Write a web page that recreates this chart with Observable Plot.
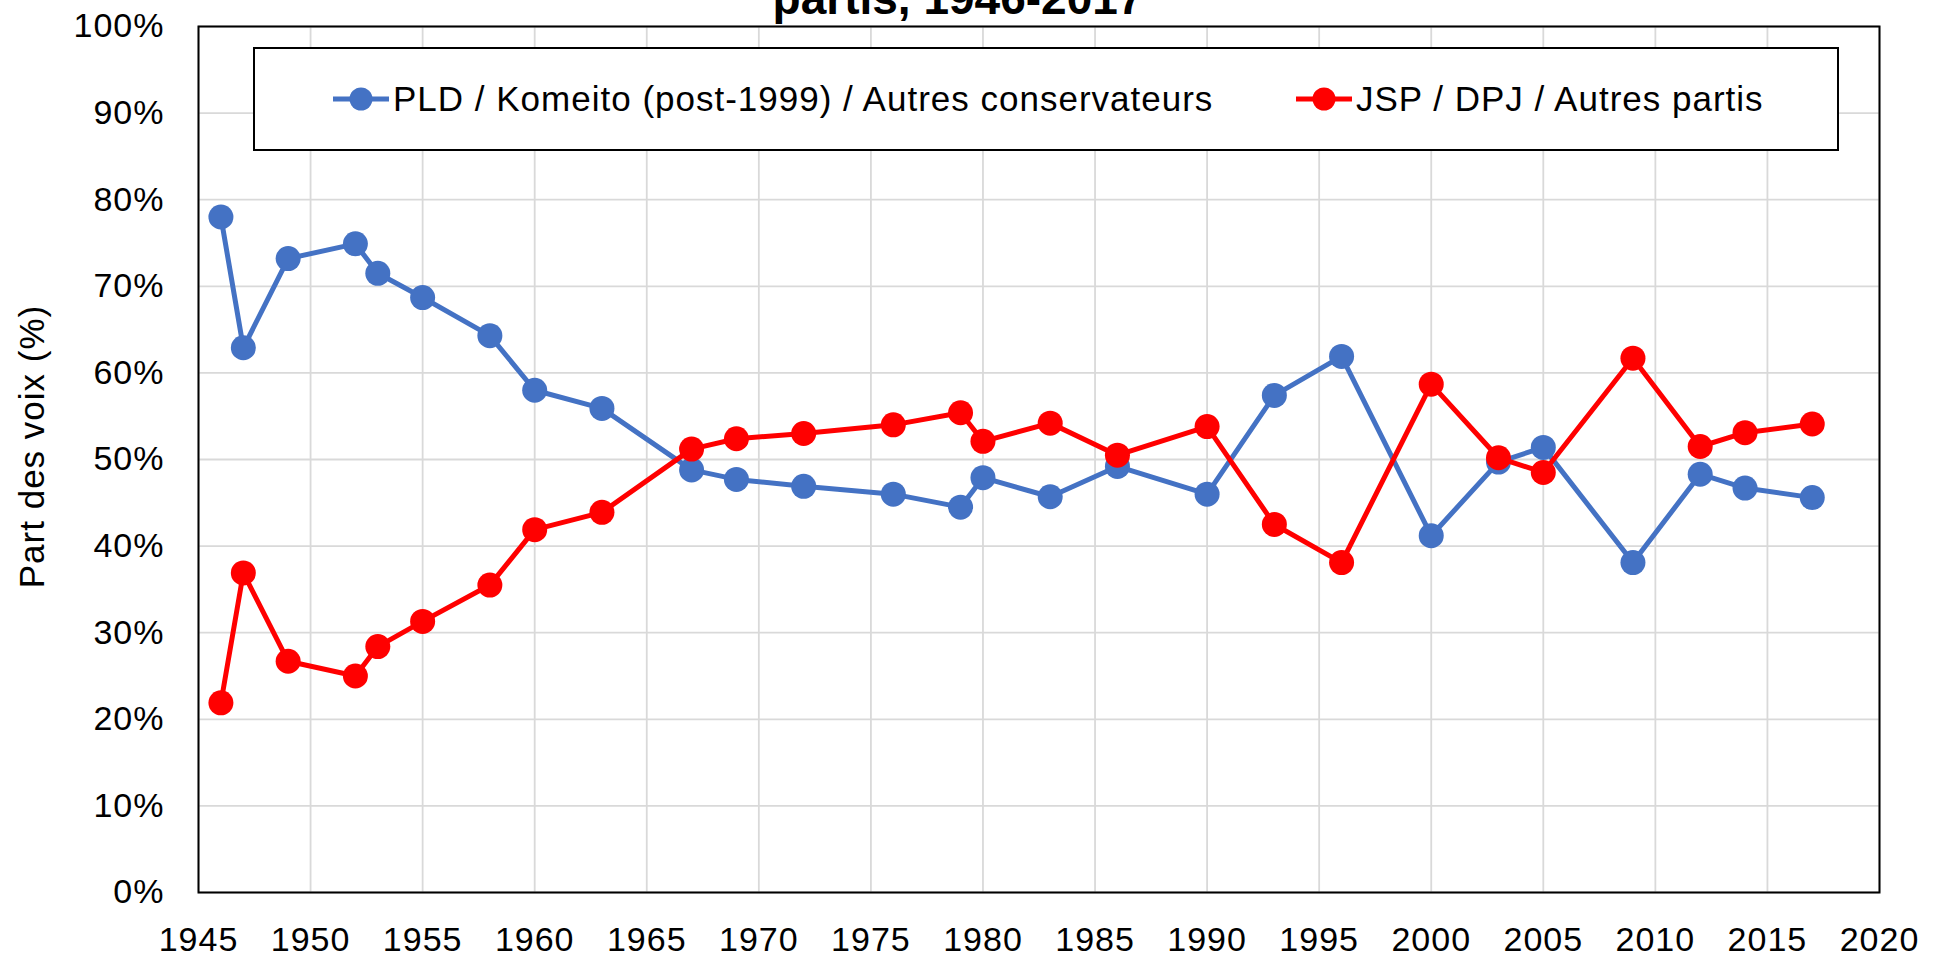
<!DOCTYPE html>
<html><head><meta charset="utf-8">
<script src="https://cdn.jsdelivr.net/npm/d3@7"></script>
<script src="https://cdn.jsdelivr.net/npm/@observablehq/plot@0.6"></script>
<style>
html,body{margin:0;padding:0;background:#fff;overflow:hidden;}
#wrap{position:relative;width:1942px;height:956px;font-family:"Liberation Sans",Arial,sans-serif;color:#000;}
#title{position:absolute;left:708px;width:500px;top:-25px;text-align:center;font-weight:bold;font-size:46px;line-height:46px;white-space:nowrap;}
#legend{position:absolute;left:253px;top:47px;width:1586px;height:104px;box-sizing:border-box;border:2px solid #000;background:#fff;}
.sw{position:absolute;top:38px;}
.lt{position:absolute;top:32px;font-size:35px;line-height:35px;letter-spacing:1px;white-space:nowrap;}
</style>
</head><body>
<div id="wrap">
  <div id="chart"></div>
  <div id="title">partis, 1946-2017</div>
  <div id="legend"></div>
</div>
<script>
const years = [1946,1947,1949,1952,1953,1955,1958,1960,1963,1967,1969,1972,1976,1979,1980,1983,1986,1990,1993,1996,2000,2003,2005,2009,2012,2014,2017];
const ldpShare = [78.0,62.9,73.2,74.9,71.5,68.7,64.3,58.0,55.9,48.8,47.7,46.9,46.0,44.5,47.9,45.7,49.2,46.0,57.4,61.9,41.2,49.7,51.4,38.1,48.3,46.7,45.6];
const jspShare = [21.9,36.9,26.7,25.0,28.4,31.3,35.5,41.9,43.9,51.2,52.4,53.0,54.0,55.4,52.1,54.2,50.5,53.8,42.5,38.1,58.7,50.2,48.5,61.7,51.5,53.1,54.1];
const seriesNames = ["PLD / Komeito (post-1999) / Autres conservateurs", "JSP / DPJ / Autres partis"];
const seriesColors = ["#4472C4", "#FF0000"];
const xTicks = [1945,1950,1955,1960,1965,1970,1975,1980,1985,1990,1995,2000,2005,2010,2015,2020];
const yTicks = [0,10,20,30,40,50,60,70,80,90,100];
const yLabel = "Part des voix (%)";

const dataL = years.map((y,i)=>({year:y, v:ldpShare[i]}));
const dataJ = years.map((y,i)=>({year:y, v:jspShare[i]}));

const chart = Plot.plot({
  width:1942, height:956,
  marginLeft:198, marginRight:63, marginTop:26, marginBottom:64,
  style:{fontFamily:"Liberation Sans, Arial, sans-serif", fontSize:"34px", letterSpacing:"1px", color:"#000", background:"transparent", overflow:"visible"},
  x:{domain:[1945,2020]},
  y:{domain:[0,100]},
  marks:[
    Plot.ruleX(xTicks,{stroke:"#d9d9d9", strokeWidth:1.8}),
    Plot.ruleY(yTicks,{stroke:"#d9d9d9", strokeWidth:1.8}),
    Plot.axisX({ticks:xTicks, tickSize:0, tickPadding:34, tickFormat:d=>String(d), label:null}),
    Plot.axisY({ticks:yTicks, tickSize:0, tickPadding:34, tickFormat:d=>d+"%", label:null}),
    Plot.text([yLabel],{text:d=>d, frameAnchor:"left", rotate:-90, dx:-155, dy:-13, textAnchor:"middle", lineAnchor:"bottom", fontSize:35}),
    Plot.line(dataL,{x:"year", y:"v", stroke:seriesColors[0], strokeWidth:5, strokeLinejoin:"round"}),
    Plot.dot(dataL,{x:"year", y:"v", r:12.5, fill:seriesColors[0]}),
    Plot.line(dataJ,{x:"year", y:"v", stroke:seriesColors[1], strokeWidth:5, strokeLinejoin:"round"}),
    Plot.dot(dataJ,{x:"year", y:"v", r:12.5, fill:seriesColors[1]}),
    Plot.frame({stroke:"#000", strokeWidth:2})
  ]
});
document.getElementById("chart").appendChild(chart);

const legend = document.getElementById("legend");
const swLeft = [78, 1041];
seriesNames.forEach((name,i)=>{
  const sw = document.createElementNS("http://www.w3.org/2000/svg","svg");
  sw.setAttribute("width","56"); sw.setAttribute("height","24");
  sw.setAttribute("class","sw");
  sw.style.left = swLeft[i]+"px";
  sw.innerHTML = `<line x1="0" x2="56" y1="12" y2="12" stroke="${seriesColors[i]}" stroke-width="5" stroke-linecap="round"/><circle cx="28" cy="12" r="11.5" fill="${seriesColors[i]}"/>`;
  legend.appendChild(sw);
  const t = document.createElement("span");
  t.className = "lt";
  t.style.left = (swLeft[i]+60)+"px";
  t.textContent = name;
  legend.appendChild(t);
});
</script>
</body></html>
